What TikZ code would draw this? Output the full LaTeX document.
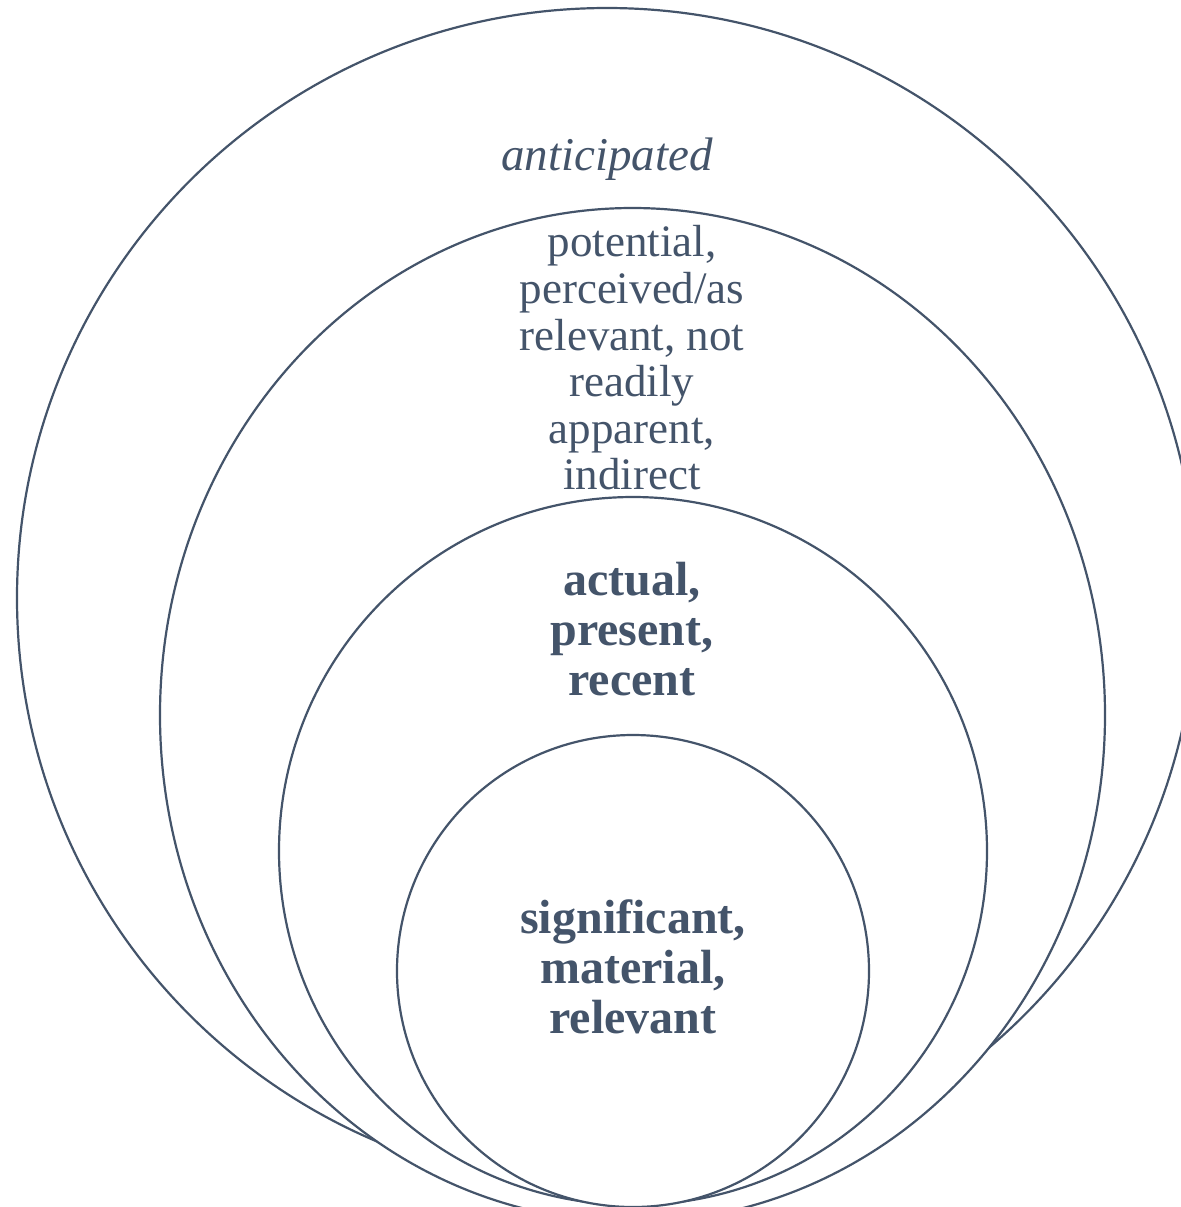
\documentclass[tikz,border=0pt]{standalone}
\usepackage{fontspec}
\setmainfont{Liberation Serif}
\usepackage{tikz}
\usepackage{xcolor}

\definecolor{slate}{HTML}{44546A}

\begin{document}
\begin{tikzpicture}[x=0.5pt,y=-0.5pt,
	ring/.style={draw=slate,line width=1.1pt,fill=white},
	lbl/.style={text=slate,align=center,inner sep=0pt}]
	
	\useasboundingbox (0,0) rectangle (1181,1207);
	\clip (0,0) rectangle (1181,1207);
	
	% Draw rings, outside in
	\draw[ring] (607,598) circle (590);
	\draw[ring] (632.5,715) ellipse (472.5 and 507);
	\draw[ring] (633,851) circle (354);
	\draw[ring] (633,971) circle (236);
	
	% Draw labels
	\node[lbl,anchor=base,font=\fontsize{23.5}{24}\selectfont\itshape] (ant) at (607,170) {anticipated};
	\node[lbl,font=\fontsize{22.5}{23.3}\selectfont] (pot) at (632,358) {potential,\\perceived/as\\relevant, not\\readily\\apparent,\\indirect};
	\node[lbl,font=\fontsize{24}{25}\selectfont\bfseries] (act) at (632,629) {actual,\\present,\\recent};
	\node[lbl,font=\fontsize{24}{25}\selectfont\bfseries] (sig) at (633,967) {significant,\\material,\\relevant};
	
\end{tikzpicture}
\end{document}
